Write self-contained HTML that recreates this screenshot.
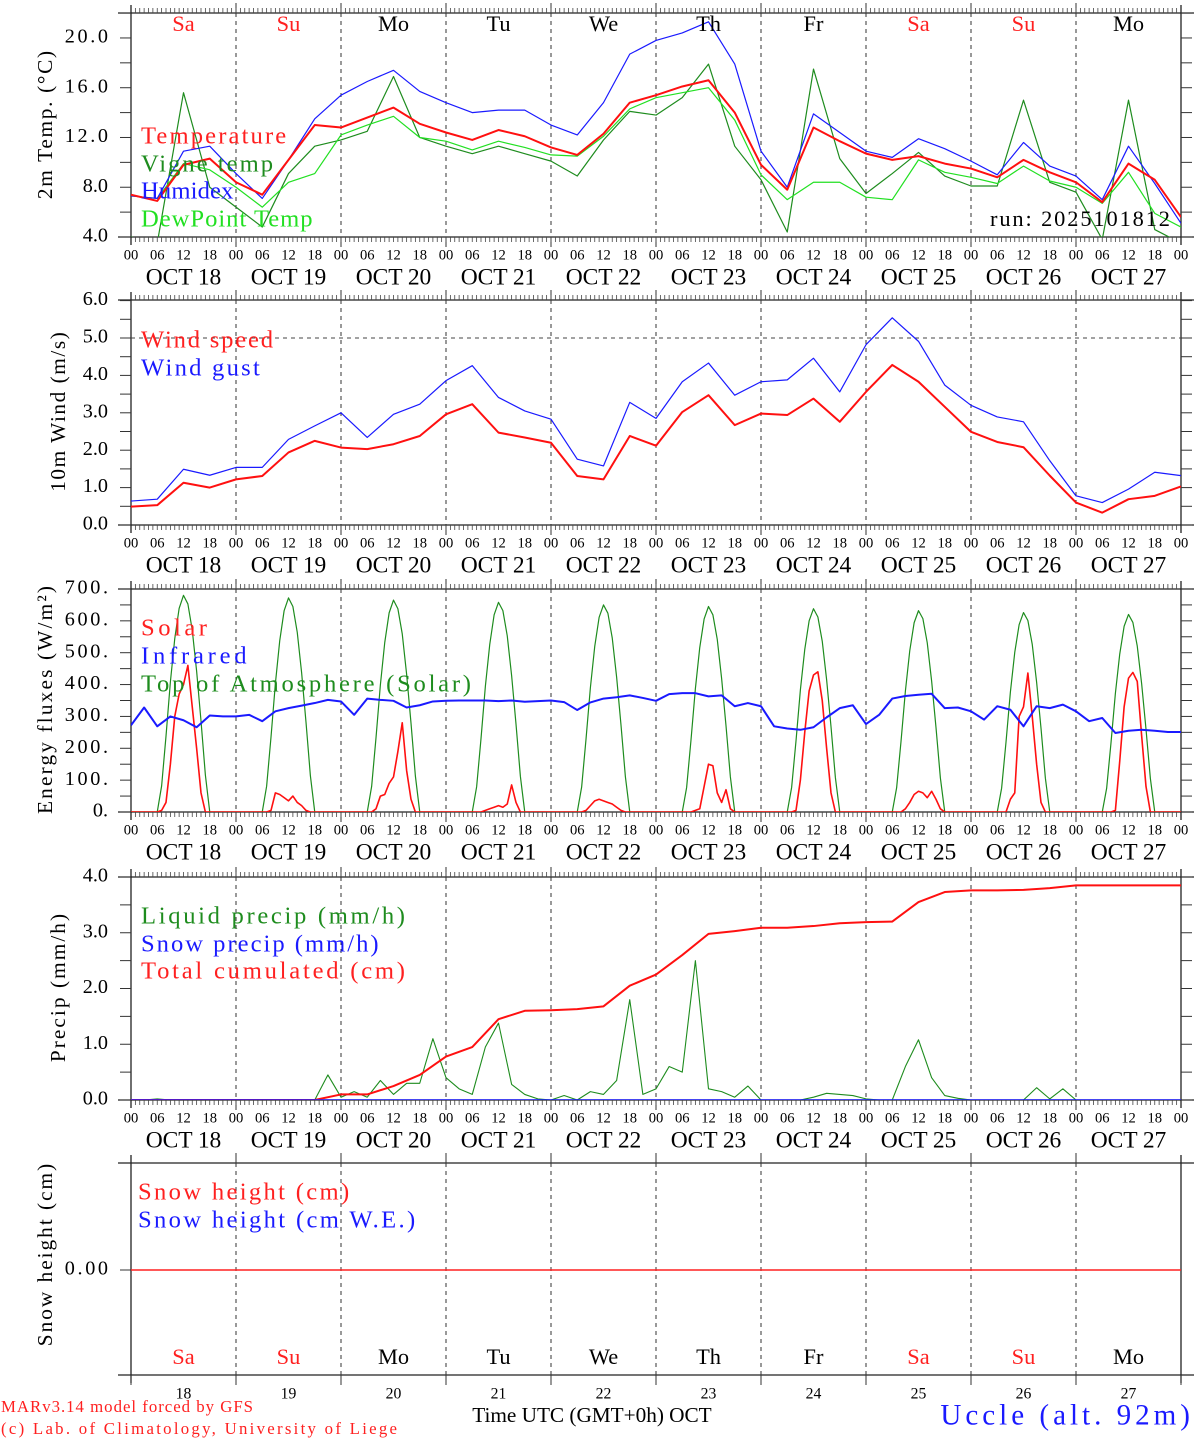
<!DOCTYPE html>
<html><head><meta charset="utf-8"><style>
html,body{margin:0;padding:0;background:#fff;}
svg{display:block;font-family:"Liberation Serif","DejaVu Serif",serif;}
</style></head><body>
<svg id="chart" width="1194" height="1440" viewBox="0 0 1194 1440" xmlns="http://www.w3.org/2000/svg">
<rect x="0" y="0" width="1194" height="1440" fill="#fff"/>
<defs>
<clipPath id="c1"><rect x="131" y="13" width="1050" height="224"/></clipPath>
<clipPath id="c2"><rect x="131" y="300" width="1050" height="225"/></clipPath>
<clipPath id="c3"><rect x="131" y="589" width="1050" height="223"/></clipPath>
<clipPath id="c4"><rect x="131" y="877" width="1050" height="223"/></clipPath>
</defs>
<g id="frames"></g>
<g id="lines"></g>
<g id="texts"></g>
</svg>
<script>
// ---------- DATA ----------
const dayNames = ["Sa","Su","Mo","Tu","We","Th","Fr","Sa","Su","Mo"];
const dayNums = ["18","19","20","21","22","23","24","25","26","27"];
const hourLabels = ["00","06","12","18"];
// 6-hourly series (41 points, Oct 18 00 UTC to Oct 28 00 UTC)
const temperature = [7.4,6.9,9.8,10.3,8.4,7.4,10.2,13.0,12.8,13.6,14.4,13.1,12.4,11.8,12.6,12.1,11.2,10.6,12.3,14.8,15.4,16.1,16.6,14.0,9.8,7.8,12.8,11.7,10.7,10.2,10.5,9.9,9.5,8.8,10.2,9.2,8.4,6.8,9.9,8.6,5.6];
const vigneTemp = [4.0,3.5,15.6,8.0,6.4,4.8,9.1,11.3,11.8,12.5,16.9,12.0,11.3,10.7,11.3,10.7,10.1,8.9,11.8,14.1,13.8,15.2,17.9,11.3,8.6,4.4,17.5,10.3,7.5,9.1,10.8,8.9,8.1,8.1,15.0,8.4,7.6,3.8,15.0,4.6,3.5];
const humidex = [7.3,7.1,10.9,11.3,9.1,7.1,10.2,13.5,15.4,16.5,17.4,15.7,14.8,14.0,14.2,14.2,13.0,12.2,14.8,18.7,19.8,20.4,21.3,17.9,10.9,8.0,13.9,12.4,10.9,10.4,11.9,11.1,10.1,9.0,11.6,9.7,8.9,7.0,11.3,8.3,5.1];
const dewPoint = [7.3,7.1,9.9,9.4,8.0,6.4,8.4,9.1,12.2,13.0,13.7,12.0,11.7,11.0,11.7,11.2,10.6,10.5,12.1,14.3,15.2,15.6,16.0,13.4,9.0,7.0,8.4,8.4,7.2,7.0,10.2,9.2,8.8,8.3,9.7,8.5,8.0,6.7,9.2,5.9,4.8];
const windSpeed = [0.49,0.53,1.13,1.0,1.22,1.31,1.94,2.25,2.07,2.03,2.16,2.38,2.96,3.23,2.47,2.34,2.2,1.31,1.22,2.38,2.12,3.02,3.47,2.67,2.98,2.94,3.38,2.76,3.56,4.28,3.83,3.16,2.49,2.22,2.08,1.32,0.6,0.33,0.69,0.78,1.03];
const windGust = [0.64,0.69,1.49,1.33,1.54,1.54,2.29,2.65,3.0,2.34,2.96,3.23,3.86,4.26,3.41,3.05,2.83,1.76,1.58,3.28,2.85,3.83,4.33,3.47,3.83,3.88,4.46,3.56,4.82,5.54,4.91,3.74,3.2,2.89,2.76,1.72,0.78,0.6,0.96,1.41,1.32];
// hourly series (241 points)
const solar = [
0,0,0,0,0,0,0, 5,30,150,300,370,400,460,330,200,60,0, 0,0,0,0,0,0,
0,0,0,0,0,0,0, 0,5,60,55,45,35,50,30,20,5,0, 0,0,0,0,0,0,
0,0,0,0,0,0,0, 0,10,50,55,90,110,190,280,130,40,0, 0,0,0,0,0,0,
0,0,0,0,0,0,0, 0,0,5,10,15,20,15,25,85,30,0, 0,0,0,0,0,0,
0,0,0,0,0,0,0, 0,5,20,35,40,35,30,25,15,5,0, 0,0,0,0,0,0,
0,0,0,0,0,0,0, 0,0,5,10,80,150,145,60,30,70,10, 0,0,0,0,0,0,
0,0,0,0,0,0,0, 0,5,100,250,380,430,440,350,200,60,0, 0,0,0,0,0,0,
0,0,0,0,0,0,0, 0,0,10,30,55,65,60,45,65,40,10, 0,0,0,0,0,0,
0,0,0,0,0,0,0, 0,0,40,60,300,330,436,300,150,30,0, 0,0,0,0,0,0,
0,0,0,0,0,0,0, 0,0,5,160,330,420,438,410,240,80,0, 0,0,0,0,0,0,
0];
const toaSolar = [
0,0,0,0,0,0,0, 82,238,408,544,639,680,653,571,442,286,116, 0,0,0,0,0,0,
0,0,0,0,0,0,0, 81,235,403,538,632,672,645,564,437,282,114, 0,0,0,0,0,0,
0,0,0,0,0,0,0, 80,233,399,532,625,665,638,559,432,279,113, 0,0,0,0,0,0,
0,0,0,0,0,0,0, 79,230,395,526,619,658,632,553,428,276,112, 0,0,0,0,0,0,
0,0,0,0,0,0,0, 78,228,390,520,611,650,624,546,423,273,111, 0,0,0,0,0,0,
0,0,0,0,0,0,0, 77,226,387,516,606,645,619,542,419,271,110, 0,0,0,0,0,0,
0,0,0,0,0,0,0, 77,223,383,510,600,638,612,536,415,268,108, 0,0,0,0,0,0,
0,0,0,0,0,0,0, 76,221,379,506,594,632,607,531,411,265,107, 0,0,0,0,0,0,
0,0,0,0,0,0,0, 75,219,376,501,588,626,601,526,407,263,106, 0,0,0,0,0,0,
0,0,0,0,0,0,0, 74,217,372,496,583,620,595,521,403,260,105, 0,0,0,0,0,0,
0];
// 3-hourly series (81 points)
const infrared = [272,328,269,300,288,266,303,300, 300,305,285,316,326,334,342,352, 347,305,356,352,349,328,335,347, 349,350,350,350,348,350,346,348, 350,345,320,344,356,360,366,358, 349,370,373,373,363,366,332,342, 332,269,262,258,266,297,326,335, 276,305,356,364,368,371,326,328, 316,290,332,321,269,332,326,337, 316,285,295,248,255,258,255,251, 251];
const liquidPrecip = [0,0,0.02,0,0,0,0,0, 0,0,0,0,0,0,0,0.45, 0.05,0.15,0.05,0.35,0.1,0.3,0.3,1.1, 0.4,0.2,0.1,0.95,1.38,0.28,0.1,0.02, 0,0.08,0,0.15,0.1,0.35,1.8,0.1, 0.2,0.6,0.5,2.5,0.2,0.15,0.05,0.25, 0,0,0,0,0.05,0.12,0.1,0.08, 0.02,0,0,0.6,1.08,0.4,0.08,0.03, 0,0,0,0,0,0.22,0.02,0.2, 0,0,0,0,0,0,0,0, 0];
const snowPrecip = [0,0,0,0,0,0,0,0,0,0,0,0,0,0,0,0,0,0,0,0,0,0,0,0,0,0,0,0,0,0,0,0,0,0,0,0,0,0,0,0,0];
// 6-hourly cumulated precipitation (cm)
const totalCumulated = [0,0,0,0,0,0,0,0,0.1,0.1,0.25,0.45,0.78,0.95,1.45,1.6,1.61,1.63,1.68,2.05,2.25,2.6,2.98,3.03,3.09,3.09,3.12,3.17,3.19,3.2,3.55,3.73,3.76,3.76,3.77,3.8,3.85,3.85,3.85,3.85,3.85];
const snowHeight = [0,0,0,0,0,0,0,0,0,0,0,0,0,0,0,0,0,0,0,0,0,0,0,0,0,0,0,0,0,0,0,0,0,0,0,0,0,0,0,0,0];
const tempTicks = ["4.0","8.0","12.0","16.0","20.0"];
const windTicks = ["0.0","1.0","2.0","3.0","4.0","5.0","6.0"];
const energyTicks = ["0.","100.","200.","300.","400.","500.","600.","700."];
const precipTicks = ["0.0","1.0","2.0","3.0","4.0"];

// ---------- SCALES ----------
const X0 = 131, X1 = 1181, PXH = (X1 - X0) / 240;
function xOf(h){ return X0 + h * PXH; }
const panels = [
  {top:13, bot:237, y:v=>237-(v-4)*12.44, minor:2, min:4, max:22},
  {top:300, bot:525, y:v=>525-v*37.4, minor:0.5, min:0, max:6},
  {top:589, bot:812, y:v=>812-v*0.3186, minor:50, min:0, max:700},
  {top:877, bot:1100, y:v=>1100-v*55.75, minor:0.5, min:0, max:4},
  {top:1163, bot:1375, y:v=>1270, minor:null, min:0, max:0}
];
const NS = "http://www.w3.org/2000/svg";
const F = document.getElementById('frames'), L = document.getElementById('lines'), T = document.getElementById('texts');
function mk(tag, attrs, parent){ const e = document.createElementNS(NS, tag); for (const k in attrs) e.setAttribute(k, attrs[k]); parent.appendChild(e); return e; }
function txt(s, x, y, size, color, anchor, parent){
  const a = {x:x, y:y, 'font-size':(size*1.12).toFixed(1), fill:color, 'text-anchor':anchor||'start', 'dominant-baseline':'middle'};
  if (s.length > 3) { a.textLength = (s.length*0.6*size).toFixed(1); a.lengthAdjust = 'spacing'; }
  const e = mk('text', a, parent||T);
  e.textContent = s; return e;
}

// ---------- FRAMES ----------
panels.forEach((p, pi) => {
  const g = mk('g', {}, F);
  
  
  mk('line', {x1:118, y1:p.top, x2:1194, y2:p.top, stroke:'#222', 'stroke-width':1.3}, g);
  mk('line', {x1:118, y1:p.bot, x2:1194, y2:p.bot, stroke:'#222', 'stroke-width':1.3}, g);
  mk('line', {x1:X0, y1:p.top-8, x2:X0, y2:p.bot+8, stroke:'#222', 'stroke-width':1.3}, g);
  mk('line', {x1:X1, y1:p.top-8, x2:X1, y2:p.bot+8, stroke:'#222', 'stroke-width':1.3}, g);
  for (let d = 1; d < 10; d++) {
    const x = xOf(d*24);
    mk('line', {x1:x, y1:p.top-10, x2:x, y2:p.top, stroke:'#333', 'stroke-width':1}, g);
    mk('line', {x1:x, y1:p.bot, x2:x, y2:p.bot+10, stroke:'#333', 'stroke-width':1}, g);
    mk('line', {x1:x, y1:p.top, x2:x, y2:p.bot, stroke:'#333', 'stroke-width':1, 'stroke-dasharray':'4,4'}, g);
  }
  if (pi < 4) {
    let dTop = '', dBot = '';
    for (let h = 1; h < 240; h++) {
      const x = xOf(h).toFixed(2);
      dTop += 'M' + x + ' ' + (p.top-5) + 'V' + p.top;
      dBot += 'M' + x + ' ' + p.bot + 'V' + (p.bot+5);
    }
    mk('path', {d:dTop + dBot, stroke:'#444', 'stroke-width':0.8, fill:'none'}, g);
  }
  if (p.minor) {
    for (let v = p.min; v <= p.max + 1e-9; v += p.minor) {
      const y = p.y(v);
      if (y < p.top - 0.5) continue;
      mk('line', {x1:120, y1:y, x2:X0, y2:y, stroke:'#333', 'stroke-width':1}, g);
      mk('line', {x1:X1, y1:y, x2:1192, y2:y, stroke:'#333', 'stroke-width':1}, g);
    }
  }
  if (pi < 4) {
    for (let i = 0; i <= 40; i++) {
      const t = txt(hourLabels[i % 4], xOf(i*6), p.bot + 19, 13, '#000', 'middle');
      
      
    }
    for (let d = 0; d < 10; d++) {
      const t = txt('OCT ' + dayNums[d], xOf(d*24+12), p.bot + 42, 21, '#000', 'middle');
      
      
    }
  }
});
mk('line', {x1:X0, y1:panels[1].y(5), x2:X1, y2:panels[1].y(5), stroke:'#444', 'stroke-width':1, 'stroke-dasharray':'4,4'}, F);
for (let d = 0; d <= 10; d++) mk('line', {x1:xOf(d*24), y1:1375, x2:xOf(d*24), y2:1385, stroke:'#333'}, F);
mk('line', {x1:120, y1:1270, x2:X0, y2:1270, stroke:'#333'}, F);

// ---------- Y TICK LABELS ----------
function yLabels(arr, p, step, start){ arr.forEach((s, i) => { const t = txt(s, 108, p.y(start + i*step), 18, '#000', 'end');   }); }
yLabels(tempTicks, panels[0], 4, 4);
yLabels(windTicks, panels[1], 1, 0);
yLabels(energyTicks, panels[2], 100, 0);
yLabels(precipTicks, panels[3], 1, 0);
const snowLbl = txt('0.00', 108, 1270, 18, '#000', 'end');



// ---------- SERIES ----------
function series(vals, stepH, p, color, w, clip, name){
  let d = '';
  vals.forEach((v, i) => { d += (i ? 'L' : 'M') + xOf(i*stepH).toFixed(2) + ' ' + p.y(v).toFixed(2); });
  const e = mk('path', {d:d, stroke:color, 'stroke-width':w, fill:'none', 'stroke-linejoin':'round', 'clip-path':clip ? 'url(#' + clip + ')' : ''}, L);
  
  
}
series(vigneTemp, 6, panels[0], '#1e8c1e', 1.2, 'c1', 'vigne-temp-line');
series(dewPoint, 6, panels[0], '#22e022', 1.2, 'c1', 'dewpoint-line');
series(humidex, 6, panels[0], '#1a1aff', 1.2, 'c1', 'humidex-line');
series(temperature, 6, panels[0], '#ff1010', 2, 'c1', 'temperature-line');
series(windGust, 6, panels[1], '#1a1aff', 1.2, 'c2', 'wind-gust-line');
series(windSpeed, 6, panels[1], '#ff1010', 2, 'c2', 'wind-speed-line');
series(toaSolar, 1, panels[2], '#1e8c1e', 1.2, 'c3', 'toa-solar-line');
series(solar, 1, panels[2], '#ff1010', 1.6, 'c3', 'solar-line');
series(infrared, 3, panels[2], '#1a1aff', 2, 'c3', 'infrared-line');
series(liquidPrecip, 3, panels[3], '#1e8c1e', 1.1, 'c4', 'liquid-precip-line');
series(totalCumulated, 6, panels[3], '#ff1010', 2, 'c4', 'total-cumulated-line');
series(snowPrecip, 6, panels[3], '#1a1aff', 1.5, 'c4', 'snow-precip-line');
series(snowHeight, 6, panels[4], '#ff2020', 1.6, null, 'snow-height-line');

// ---------- TEXT ----------
function label(s, x, y, size, color, name, anchor){ const t = txt(s, x, y, size, color, anchor);   return t; }
dayNames.forEach((n, d) => {
  const c = (n === 'Sa' || n === 'Su') ? '#ff2020' : '#000';
  label(n, xOf(d*24+12), 26, 20, c, 'day-name-top', 'middle');
  label(n, xOf(d*24+12), 1359, 20, c, 'day-name-bottom', 'middle');
  label(dayNums[d], xOf(d*24+12), 1395, 14, '#000', 'bottom-date-number', 'middle');
});
label('Temperature', 141, 138, 22, '#ff2020', 'legend-temperature');
label('Vigne temp', 141, 166, 22, '#1e8c1e', 'legend-vigne-temp');
label('Humidex', 141, 193, 22, '#1a1aff', 'legend-humidex');
label('DewPoint Temp', 141, 221, 22, '#22e022', 'legend-dewpoint');
label('run: 2025101812', 1170, 221, 20, '#000', 'run-label', 'end');
label('Wind speed', 141, 342, 22, '#ff2020', 'legend-wind-speed');
label('Wind gust', 141, 370, 22, '#1a1aff', 'legend-wind-gust');
label('Solar', 141, 630, 22, '#ff2020', 'legend-solar');
label('Infrared', 141, 658, 22, '#1a1aff', 'legend-infrared');
label('Top of Atmosphere (Solar)', 141, 686, 22, '#1e8c1e', 'legend-toa');
label('Liquid precip (mm/h)', 141, 918, 22, '#1e8c1e', 'legend-liquid-precip');
label('Snow precip (mm/h)', 141, 946, 22, '#1a1aff', 'legend-snow-precip');
label('Total cumulated (cm)', 141, 973, 22, '#ff2020', 'legend-total-cumulated');
label('Snow height (cm)', 138, 1194, 22, '#ff2020', 'legend-snow-height');
label('Snow height (cm W.E.)', 138, 1222, 22, '#1a1aff', 'legend-snow-we');
function yTitle(s, x, y, name){ const t = label(s, x, y, 19, '#000', name, 'middle'); t.setAttribute('transform', 'rotate(-90 ' + x + ' ' + y + ')'); }
yTitle('2m Temp. (\u00B0C)', 47, 125, 'y-axis-title-temp');
yTitle('10m Wind (m/s)', 60, 412, 'y-axis-title-wind');
yTitle('Energy fluxes (W/m\u00B2)', 47, 700, 'y-axis-title-energy');
yTitle('Precip (mm/h)', 60, 988, 'y-axis-title-precip');
yTitle('Snow height (cm)', 47, 1255, 'y-axis-title-snow');
label('Time UTC (GMT+0h) OCT', 592, 1417, 19, '#000', 'x-axis-title', 'middle');
label('Uccle (alt. 92m)', 1190, 1418, 26, '#1a1aff', 'station-title', 'end');
label('MARv3.14 model forced by GFS', 1, 1408, 15, '#ff2020', 'credit-model');
label('(c) Lab. of Climatology, University of Liege', 1, 1430, 15, '#ff2020', 'credit-lab');
</script>
</body></html>
